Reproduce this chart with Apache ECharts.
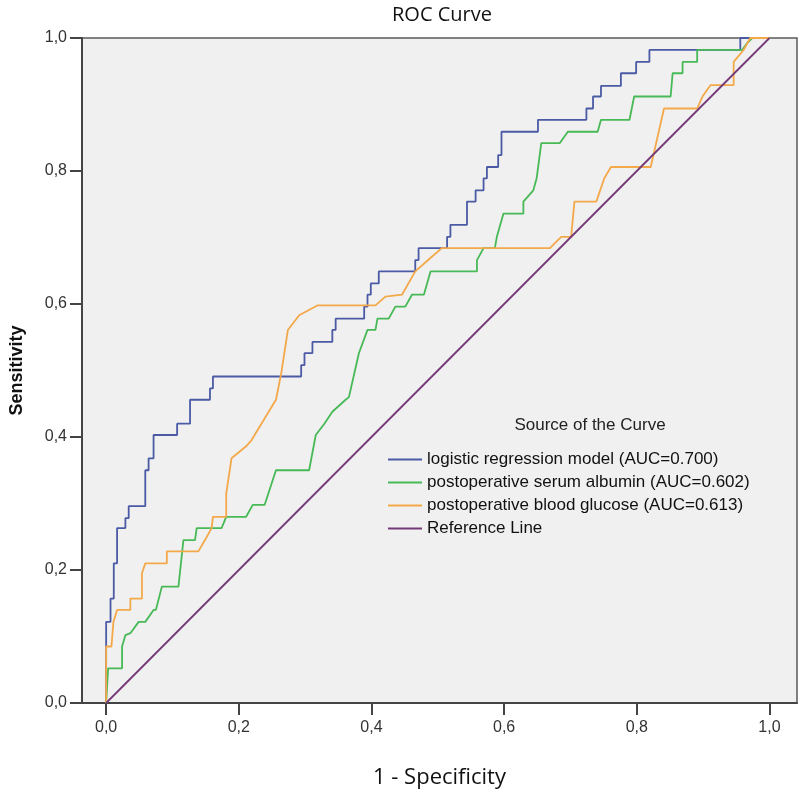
<!DOCTYPE html>
<html>
<head>
<meta charset="UTF-8">
<title>ROC Curve</title>
<script src="https://cdn.jsdelivr.net/npm/echarts@6/dist/echarts.min.js"></script>
<style>
  html, body { margin: 0; padding: 0; background: #fff; }
  #rocChart { width: 800px; height: 797px; }
</style>
</head>
<body>
<div id="rocChart"></div>
<script>
// axis ticks
var tickValues = [0, 0.2, 0.4, 0.6, 0.8, 1.0];

// logistic regression model (AUC=0.700)
var logitX = [0, 0, 0.0066, 0.0066, 0.0115, 0.0115, 0.0165, 0.0165, 0.029, 0.029, 0.034, 0.034, 0.059, 0.059, 0.064, 0.064,
  0.0715, 0.0715, 0.107, 0.107, 0.1265, 0.1265, 0.1565, 0.1565, 0.161, 0.161, 0.294, 0.294, 0.299, 0.299, 0.311, 0.311,
  0.341, 0.341, 0.346, 0.346, 0.389, 0.389, 0.394, 0.394, 0.399, 0.399, 0.411, 0.411, 0.466, 0.466, 0.471, 0.471,
  0.514, 0.514, 0.519, 0.519, 0.544, 0.544, 0.557, 0.557, 0.569, 0.569, 0.574, 0.574, 0.591, 0.591, 0.596, 0.596,
  0.651, 0.651, 0.724, 0.724, 0.734, 0.734, 0.746, 0.746, 0.776, 0.776, 0.799, 0.799, 0.819, 0.819, 0.956, 0.956, 1];
var logitY = [0, 0.122, 0.122, 0.157, 0.157, 0.21, 0.21, 0.263, 0.263, 0.278, 0.278, 0.296, 0.296, 0.35, 0.35, 0.368,
  0.368, 0.403, 0.403, 0.42, 0.42, 0.456, 0.456, 0.473, 0.473, 0.491, 0.491, 0.508, 0.508, 0.526, 0.526, 0.543,
  0.543, 0.561, 0.561, 0.578, 0.578, 0.596, 0.596, 0.614, 0.614, 0.631, 0.631, 0.649, 0.649, 0.666, 0.666, 0.684,
  0.684, 0.701, 0.701, 0.719, 0.719, 0.754, 0.754, 0.771, 0.771, 0.789, 0.789, 0.806, 0.806, 0.824, 0.824, 0.859,
  0.859, 0.877, 0.877, 0.894, 0.894, 0.912, 0.912, 0.928, 0.928, 0.947, 0.947, 0.964, 0.964, 0.982, 0.982, 1, 1];

// postoperative serum albumin (AUC=0.602)
var albuminX = [0, 0.003, 0.003, 0.024, 0.024, 0.029, 0.0365, 0.049, 0.059, 0.0715, 0.075, 0.084, 0.109, 0.1165, 0.134,
  0.1365, 0.174, 0.181, 0.211, 0.221, 0.239, 0.256, 0.306, 0.316, 0.329, 0.341, 0.361, 0.366, 0.381, 0.394, 0.406,
  0.409, 0.426, 0.436, 0.451, 0.461, 0.479, 0.489, 0.559, 0.559, 0.569, 0.586, 0.589, 0.599, 0.629, 0.629, 0.644,
  0.649, 0.656, 0.684, 0.696, 0.741, 0.746, 0.789, 0.796, 0.851, 0.854, 0.869, 0.869, 0.891, 0.891, 0.959, 0.966, 0.974, 1];
var albuminY = [0, 0, 0.052, 0.052, 0.085, 0.102, 0.105, 0.122, 0.122, 0.14, 0.14, 0.175, 0.175, 0.245, 0.245,
  0.263, 0.263, 0.28, 0.28, 0.298, 0.298, 0.35, 0.35, 0.403, 0.42, 0.438, 0.456, 0.46, 0.526, 0.561, 0.561,
  0.578, 0.578, 0.596, 0.596, 0.614, 0.614, 0.649, 0.649, 0.666, 0.684, 0.684, 0.701, 0.736, 0.736, 0.754, 0.771,
  0.789, 0.842, 0.842, 0.859, 0.859, 0.877, 0.877, 0.912, 0.912, 0.947, 0.947, 0.964, 0.964, 0.982, 0.982, 0.992, 1, 1];

// postoperative blood glucose (AUC=0.613)
var glucoseX = [0, 0, 0.008, 0.011, 0.0165, 0.0365, 0.0365, 0.054, 0.054, 0.059, 0.0915, 0.0915, 0.139, 0.149, 0.159,
  0.161, 0.181, 0.181, 0.189, 0.192, 0.211, 0.219, 0.256, 0.264, 0.274, 0.291, 0.319, 0.406, 0.421, 0.446, 0.466,
  0.491, 0.506, 0.669, 0.686, 0.701, 0.706, 0.739, 0.751, 0.761, 0.821, 0.841, 0.891, 0.899, 0.911, 0.946, 0.946,
  0.961, 0.971, 1];
var glucoseY = [0, 0.085, 0.085, 0.122, 0.14, 0.14, 0.157, 0.157, 0.195, 0.21, 0.21, 0.228, 0.228, 0.245, 0.263,
  0.28, 0.28, 0.315, 0.368, 0.37, 0.386, 0.395, 0.456, 0.496, 0.561, 0.583, 0.598, 0.598, 0.611, 0.614, 0.649,
  0.671, 0.684, 0.684, 0.701, 0.701, 0.754, 0.754, 0.789, 0.806, 0.806, 0.894, 0.894, 0.912, 0.929, 0.929, 0.964,
  0.982, 1, 1];

// reference line
var refX = [0, 1];
var refY = [0, 1];

var seriesNames = [
  'logistic regression model (AUC=0.700)',
  'postoperative serum albumin (AUC=0.602)',
  'postoperative blood glucose (AUC=0.613)',
  'Reference Line'
];

function zip(xs, ys) {
  return xs.map(function (x, i) { return [x, ys[i]]; });
}

function commaLabel(v) {
  return v.toFixed(1).replace('.', ',');
}

var chart = echarts.init(document.getElementById('rocChart'), null, { renderer: 'canvas' });

var lineColors = ['#4b5aa5', '#47b956', '#f3a94a', '#743a78'];
var allData = [zip(logitX, logitY), zip(albuminX, albuminY), zip(glucoseX, glucoseY), zip(refX, refY)];

var option = {
  animation: false,
  backgroundColor: '#ffffff',
  title: [
    {
      text: 'ROC Curve',
      left: 437, top: 0,
      textAlign: 'center',
      textStyle: { fontFamily: 'Open Sans', fontSize: 20, fontWeight: 'normal', color: '#111' }
    },
    {
      text: 'Source of the Curve',
      left: 585, top: 412,
      textAlign: 'center',
      textStyle: { fontFamily: 'Liberation Sans', fontSize: 17, fontWeight: 'normal', color: '#222' }
    }
  ],
  legend: {
    data: seriesNames,
    orient: 'vertical',
    left: 388, top: 451,
    padding: 0,
    icon: 'rect',
    itemWidth: 34, itemHeight: 2,
    itemGap: 6,
    textStyle: { fontFamily: 'Liberation Sans', fontSize: 17, color: '#111' }
  },
  grid: {
    left: 78, right: 3, top: 38, bottom: 94,
    show: true,
    backgroundColor: '#f0f0f0',
    borderColor: '#5a5a5a',
    borderWidth: 1.5
  },
  xAxis: {
    type: 'value',
    min: -0.0364, max: 1.0415,
    name: '1 - Specificity',
    nameLocation: 'middle',
    nameGap: 64,
    nameTextStyle: { fontFamily: 'Open Sans', fontSize: 22, color: '#111' },
    axisLine: { show: true, lineStyle: { color: '#444', width: 2 } },
    axisTick: { show: true, length: 12, lineStyle: { color: '#444', width: 2 }, customValues: tickValues },
    axisLabel: { fontFamily: 'Liberation Sans Narrow, Liberation Sans', fontSize: 16, color: '#333', margin: 17,
      customValues: tickValues, formatter: commaLabel },
    splitLine: { show: false }
  },
  yAxis: {
    type: 'value',
    min: 0, max: 1, interval: 0.2,
    name: 'Sensitivity',
    nameLocation: 'middle',
    nameGap: 56,
    nameTextStyle: { fontFamily: 'Liberation Sans', fontSize: 18, fontWeight: 'bold', color: '#111' },
    axisLine: { show: true, onZero: false, lineStyle: { color: '#444', width: 2 } },
    axisTick: { show: true, length: 12, lineStyle: { color: '#444', width: 2 } },
    axisLabel: { fontFamily: 'Liberation Sans Narrow, Liberation Sans', fontSize: 16, color: '#333', margin: 15,
      formatter: commaLabel },
    splitLine: { show: false }
  },
  series: allData.map(function (d, i) {
    return {
      name: seriesNames[i],
      type: 'line',
      data: d,
      showSymbol: false,
      symbol: 'none',
      color: lineColors[i],
      lineStyle: { color: lineColors[i], width: 1.8 },
      z: 2 + i
    };
  })
};

chart.setOption(option);
</script>
</body>
</html>
